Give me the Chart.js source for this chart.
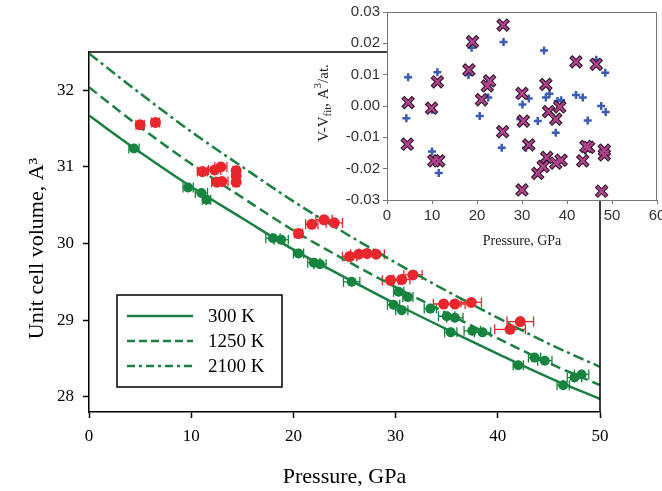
<!DOCTYPE html>
<html><head><meta charset="utf-8">
<script src="https://cdn.jsdelivr.net/npm/chart.js@4.4.1/dist/chart.umd.min.js"></script>
<style>
html,body{margin:0;padding:0;background:#fff;}
#wrap{position:relative;width:662px;height:491px;overflow:hidden;}
#main{position:absolute;left:0;top:0;width:662px;height:491px;}
#inset{position:absolute;left:300px;top:0;width:380px;height:260px;}
</style></head><body>
<div id="wrap">
<canvas id="main" width="662" height="491"></canvas>
<canvas id="inset" width="380" height="260"></canvas>
</div>
<script>
// ---------- main plot data ----------
const xTicks = [0, 10, 20, 30, 40, 50];
const yTicks = [28, 29, 30, 31, 32];
const fitLabels = ['300 K', '1250 K', '2100 K'];
const fitP    = [0, 5, 10, 15, 20, 25, 30, 35, 40, 45, 50];
const fit300  = [31.67, 31.19, 30.74, 30.33, 29.92, 29.56, 29.21, 28.88, 28.56, 28.25, 27.97];
const fit1250 = [32.04, 31.52, 31.04, 30.60, 30.17, 29.79, 29.43, 29.09, 28.76, 28.44, 28.15];
const fit2100 = [32.48, 31.96, 31.46, 31.00, 30.55, 30.14, 29.75, 29.38, 29.03, 28.69, 28.39];

const greenP    = [4.4, 9.7, 11.0, 11.5, 18.0, 18.8, 20.5, 22.0, 22.6, 25.7, 29.8, 30.6, 30.3, 31.2, 33.4, 35.0, 35.8, 35.4, 37.5, 38.5, 42.0, 43.6, 44.6, 46.4, 47.5, 48.2];
const greenV    = [31.24, 30.73, 30.66, 30.57, 30.07, 30.05, 29.87, 29.75, 29.73, 29.50, 29.20, 29.13, 29.37, 29.30, 29.15, 29.05, 29.03, 28.84, 28.86, 28.84, 28.41, 28.51, 28.47, 28.15, 28.25, 28.29];
const greenErrP = [0.5, 0.5, 0.6, 0.4, 0.7, 0.7, 0.5, 0.6, 0.6, 0.8, 0.6, 0.6, 0.5, 0.5, 0.6, 0.8, 0.8, 0.6, 0.8, 0.8, 0.5, 0.6, 0.7, 0.6, 0.7, 0.7];
const greenErrV = [0.06, 0.06, 0.06, 0.06, 0.06, 0.06, 0.06, 0.06, 0.06, 0.06, 0.06, 0.06, 0.06, 0.06, 0.06, 0.06, 0.06, 0.06, 0.06, 0.06, 0.06, 0.06, 0.06, 0.06, 0.06, 0.06];

const redP    = [5.0, 6.5, 11.1, 12.3, 12.9, 12.5, 13.0, 14.4, 14.4, 14.4, 20.5, 21.8, 23.0, 24.0, 25.5, 26.4, 27.2, 28.1, 29.5, 30.6, 31.7, 34.7, 35.8, 37.4, 41.2, 42.2];
const redV    = [31.55, 31.58, 30.94, 30.96, 31.00, 30.80, 30.81, 30.95, 30.88, 30.80, 30.13, 30.25, 30.31, 30.27, 29.83, 29.86, 29.87, 29.86, 29.52, 29.53, 29.59, 29.21, 29.21, 29.23, 28.88, 28.98];
const redErrP = [0.4, 0.4, 0.5, 0.6, 0.6, 0.5, 0.6, 0.3, 0.3, 0.3, 0.4, 0.6, 0.8, 0.8, 0.7, 0.8, 0.8, 0.8, 0.8, 0.8, 0.9, 1.0, 1.0, 1.0, 1.5, 1.3];
const redErrV = [0.06, 0.06, 0.06, 0.06, 0.06, 0.06, 0.06, 0.06, 0.06, 0.06, 0.06, 0.06, 0.06, 0.06, 0.06, 0.06, 0.06, 0.06, 0.06, 0.06, 0.06, 0.06, 0.06, 0.06, 0.06, 0.06];

// ---------- inset data ----------
const insetXTicks = [0, 10, 20, 30, 40, 50, 60];
const insetYTicks = [-0.03, -0.02, -0.01, 0.00, 0.01, 0.02, 0.03];
const plusP  = [4.7, 4.3, 10.0, 10.0, 11.2, 11.5, 18.1, 18.8, 20.6, 22.5, 25.5, 25.9, 30.1, 31.5, 30.9, 29.6, 33.5, 34.9, 35.3, 36.1, 37.5, 37.9, 38.7, 42.0, 43.5, 44.6, 46.5, 47.6, 48.5, 48.6, 44.1];
const plusDV = [0.0092, -0.0039, -0.0013, -0.0145, 0.0108, -0.0214, 0.0099, 0.0186, -0.0032, 0.0027, -0.0133, 0.0204, 0.0005, 0.0024, -0.0133, -0.0042, -0.0048, 0.0177, 0.0027, 0.0039, -0.0085, 0.0016, 0.0018, 0.0035, 0.0027, -0.0046, 0.0148, 0.0000, 0.0106, -0.0019, -0.0143];
const crossP  = [4.7, 4.5, 9.9, 11.2, 10.4, 11.5, 18.2, 19.0, 21.0, 22.3, 22.8, 25.7, 25.8, 30.0, 30.3, 31.5, 30.0, 33.5, 34.7, 35.5, 35.3, 35.9, 37.5, 37.5, 38.7, 38.4, 42.0, 43.5, 44.2, 44.8, 46.5, 47.7, 48.3, 48.3];
const crossDV = [0.0011, -0.0122, -0.0007, 0.0077, -0.0175, -0.0175, 0.0115, 0.0205, 0.0020, 0.0064, 0.0080, -0.0082, 0.0258, 0.0040, -0.0048, -0.0124, -0.0268, -0.0215, -0.0193, -0.0164, 0.0069, -0.0018, -0.0042, -0.0182, -0.0173, -0.0003, 0.0141, -0.0175, -0.0129, -0.0132, 0.0133, -0.0272, -0.0141, -0.0156];

// ---------- styles ----------
const GREEN = '#16843f', RED = '#e8262d', LINE = '#1a8040';
const SERIF = "'Liberation Serif','Times New Roman',serif";
const SANS = "'Liberation Sans',Arial,sans-serif";
function pts(xs, ys) { return xs.map((x, i) => ({x: x, y: ys[i]})); }

const errorBars = {
  id: 'errorBars',
  beforeDatasetsDraw(chart) {
    const ctx = chart.ctx, xs = chart.scales.x, ys = chart.scales.y;
    chart.data.datasets.forEach(ds => {
      if (!ds.errP) return;
      ctx.save();
      ctx.strokeStyle = ds.borderColor; ctx.lineWidth = 1.3;
      ds.data.forEach((p, j) => {
        const x1 = xs.getPixelForValue(p.x - ds.errP[j]);
        const x2 = xs.getPixelForValue(p.x + ds.errP[j]);
        const xc = xs.getPixelForValue(p.x);
        const y = ys.getPixelForValue(p.y);
        const yt = ys.getPixelForValue(p.y + ds.errV[j]);
        const yb = ys.getPixelForValue(p.y - ds.errV[j]);
        ctx.beginPath();
        ctx.moveTo(x1, y); ctx.lineTo(x2, y);
        ctx.moveTo(x1, y - 5); ctx.lineTo(x1, y + 5);
        ctx.moveTo(x2, y - 5); ctx.lineTo(x2, y + 5);
        ctx.moveTo(xc, yt); ctx.lineTo(xc, yb);
        ctx.stroke();
      });
      ctx.restore();
    });
  }
};

const frameAndLegend = {
  id: 'frameAndLegend',
  afterDraw(chart) {
    const ctx = chart.ctx, a = chart.chartArea;
    ctx.save();
    ctx.strokeStyle = '#000'; ctx.lineWidth = 1.5;
    ctx.beginPath();
    ctx.moveTo(a.left, a.top); ctx.lineTo(a.right, a.top); ctx.lineTo(a.right, a.bottom);
    ctx.stroke();
    // legend box
    const bx = a.left + 28, by = a.top + 243, bw = 165, bh = 92;
    ctx.fillStyle = '#fff'; ctx.fillRect(bx, by, bw, bh);
    ctx.lineWidth = 1.5; ctx.strokeRect(bx, by, bw, bh);
    const fits = chart.data.datasets.filter(d => d.isFit);
    fits.forEach((d, i) => {
      const y = by + 21 + i * 25;
      ctx.beginPath();
      ctx.strokeStyle = d.borderColor; ctx.lineWidth = 2.5;
      ctx.setLineDash(d.legendDash || []);
      ctx.moveTo(bx + 10, y); ctx.lineTo(bx + 76, y);
      ctx.stroke();
      ctx.setLineDash([]);
      ctx.fillStyle = '#000';
      ctx.font = '19px ' + SERIF;
      ctx.textBaseline = 'middle'; ctx.textAlign = 'left';
      ctx.fillText(d.label, bx + 91, y + 1);
    });
    ctx.restore();
  }
};

new Chart(document.getElementById('main'), {
  type: 'scatter',
  data: {
    datasets: [
      {label: fitLabels[0], data: pts(fitP, fit300), showLine: true, borderColor: LINE, borderWidth: 2.5, pointRadius: 0, cubicInterpolationMode: 'monotone', order: 5, isFit: true, legendDash: []},
      {label: fitLabels[1], data: pts(fitP, fit1250), showLine: true, borderColor: LINE, borderWidth: 2.5, borderDash: [10, 5], pointRadius: 0, cubicInterpolationMode: 'monotone', order: 4, isFit: true, legendDash: [8, 4]},
      {label: fitLabels[2], data: pts(fitP, fit2100), showLine: true, borderColor: LINE, borderWidth: 2.5, borderDash: [11, 4, 3, 4], pointRadius: 0, cubicInterpolationMode: 'monotone', order: 3, isFit: true, legendDash: [8, 4, 3, 4]},
      {label: 'green', data: pts(greenP, greenV), showLine: false, pointRadius: 5, backgroundColor: GREEN, borderColor: GREEN, borderWidth: 0, errP: greenErrP, errV: greenErrV, order: 1},
      {label: 'red', data: pts(redP, redV), showLine: false, pointRadius: 5.5, backgroundColor: RED, borderColor: RED, borderWidth: 0, errP: redErrP, errV: redErrV, order: 0}
    ]
  },
  options: {
    responsive: false, animation: false, devicePixelRatio: 1,
    layout: {padding: {top: 52, right: 62, left: 0, bottom: 0}},
    plugins: {legend: {display: false}, tooltip: {enabled: false}},
    scales: {
      x: {
        type: 'linear', position: 'bottom', min: 0, max: 50,
        afterBuildTicks: s => { s.ticks = xTicks.map(v => ({value: v})); },
        afterFit: s => { s.height = 79; },
        ticks: {font: {family: SERIF, size: 17}, color: '#000', padding: 8, maxRotation: 0},
        grid: {drawOnChartArea: false, drawTicks: true, tickLength: 6, color: '#000', tickWidth: 1.5},
        border: {display: true, color: '#000', width: 1.5},
        title: {display: true, text: 'Pressure, GPa', font: {family: SERIF, size: 22}, color: '#000', padding: {top: 0, bottom: 1}}
      },
      y: {
        type: 'linear', position: 'left', min: 27.8, max: 32.5,
        afterBuildTicks: s => { s.ticks = yTicks.map(v => ({value: v})); },
        afterFit: s => { s.width = 89; },
        ticks: {font: {family: SERIF, size: 17}, color: '#000', padding: 9},
        grid: {drawOnChartArea: false, drawTicks: true, tickLength: 6, color: '#000', tickWidth: 1.5},
        border: {display: true, color: '#000', width: 1.5},
        title: {display: true, text: 'Unit cell volume, A\u00B3\u2002\u2002\u2002', font: {family: SERIF, size: 22}, color: '#000', padding: {top: 24, bottom: 0}}
      }
    }
  },
  plugins: [errorBars, frameAndLegend]
});

// ---------- inset ----------
const insetDeco = {
  id: 'insetDeco',
  beforeDraw(chart) {
    const ctx = chart.ctx, a = chart.chartArea;
    ctx.save(); ctx.fillStyle = '#fff';
    ctx.fillRect(a.left, a.top, a.right - a.left, a.bottom - a.top);
    ctx.restore();
  },
  afterDraw(chart) {
    const ctx = chart.ctx, a = chart.chartArea;
    ctx.save();
    ctx.strokeStyle = '#777'; ctx.lineWidth = 1;
    ctx.beginPath();
    ctx.moveTo(a.left, a.top + 0.5); ctx.lineTo(a.right - 0.5, a.top + 0.5); ctx.lineTo(a.right - 0.5, a.bottom);
    ctx.stroke();
    // rotated y title with subscript / superscript
    const parts = [
      {t: 'V-V', s: 15, dy: 0}, {t: 'fit', s: 11, dy: 3}, {t: ', A', s: 15, dy: 0},
      {t: '3', s: 11, dy: -7}, {t: '/at.', s: 15, dy: 0}
    ];
    let total = 0;
    parts.forEach(p => { ctx.font = p.s + 'px ' + SERIF; p.w = ctx.measureText(p.t).width; total += p.w; });
    ctx.translate(a.left - 59, (a.top + a.bottom) / 2 - 3);
    ctx.rotate(-Math.PI / 2);
    ctx.fillStyle = '#222'; ctx.textBaseline = 'alphabetic'; ctx.textAlign = 'left';
    let x = -total / 2;
    parts.forEach(p => { ctx.font = p.s + 'px ' + SERIF; ctx.fillText(p.t, x, p.dy); x += p.w; });
    ctx.restore();
  }
};

new Chart(document.getElementById('inset'), {
  type: 'scatter',
  data: {
    datasets: [
      {label: 'plus', data: pts(plusP, plusDV), pointStyle: 'cross', pointRadius: 4, borderColor: '#3c5cb4', backgroundColor: '#3c5cb4', pointBorderWidth: 2.5, order: 2},
      {label: 'crossOutline', data: pts(crossP, crossDV), pointStyle: 'crossRot', pointRadius: 7.5, borderColor: '#2a1426', backgroundColor: '#2a1426', pointBorderWidth: 4.5, order: 1},
      {label: 'cross', data: pts(crossP, crossDV), pointStyle: 'crossRot', pointRadius: 6.5, borderColor: '#b3438f', backgroundColor: '#b3438f', pointBorderWidth: 2.3, order: 0}
    ]
  },
  options: {
    responsive: false, animation: false, devicePixelRatio: 1,
    layout: {padding: {top: 10, right: 23, left: 0, bottom: 0}},
    plugins: {legend: {display: false}, tooltip: {enabled: false}},
    scales: {
      x: {
        type: 'linear', position: 'bottom', min: 0, max: 60,
        afterBuildTicks: s => { s.ticks = insetXTicks.map(v => ({value: v})); },
        afterFit: s => { s.height = 60; },
        ticks: {font: {family: SANS, size: 15}, color: '#333', padding: 3, maxRotation: 0},
        grid: {drawOnChartArea: false, drawTicks: true, tickLength: 4, color: '#777'},
        border: {display: true, color: '#777', width: 1},
        title: {display: true, text: 'Pressure, GPa', font: {family: SERIF, size: 14}, color: '#222', padding: {top: 0, bottom: 10}}
      },
      y: {
        type: 'linear', position: 'left', min: -0.03, max: 0.03,
        afterBuildTicks: s => { s.ticks = insetYTicks.map(v => ({value: v})); },
        afterFit: s => { s.width = 87; },
        ticks: {font: {family: SANS, size: 15}, color: '#333', padding: 3, callback: v => v.toFixed(2)},
        grid: {drawOnChartArea: false, drawTicks: true, tickLength: 4, color: '#777'},
        border: {display: true, color: '#777', width: 1}
      }
    }
  },
  plugins: [insetDeco]
});
</script>
</body></html>
